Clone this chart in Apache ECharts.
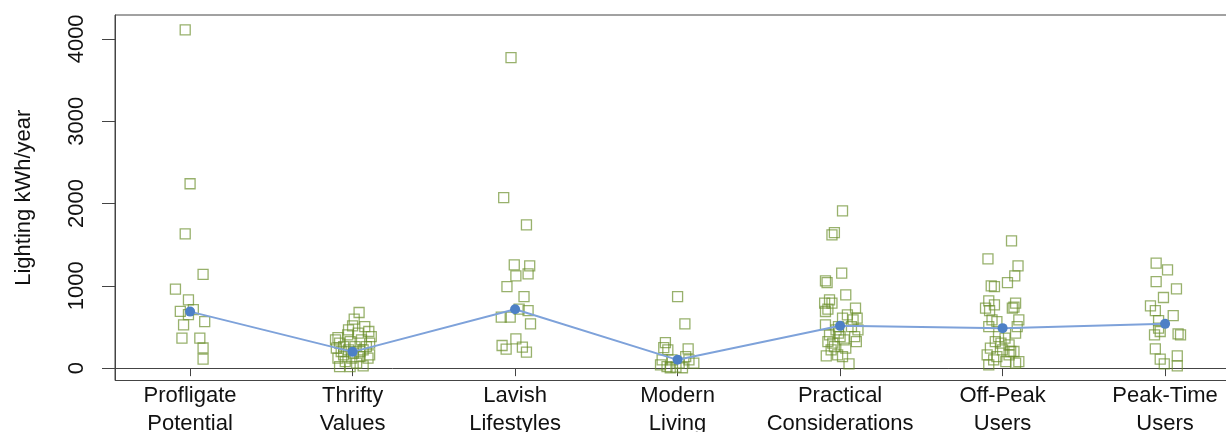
<!DOCTYPE html>
<html lang="en">
<head>
  <meta charset="UTF-8">
  <title>Lighting kWh/year by segment</title>
  <style>
    * { margin: 0; padding: 0; }
    body { background: #fff; }
    #chart { width: 1226px; height: 432px; }
  </style>
  <script src="https://cdn.jsdelivr.net/npm/echarts@6/dist/echarts.min.js"></script>
</head>
<body>
  <div id="chart"></div>
  <script>
    // segment names and y tick values
    const segments = ['Profligate\nPotential', 'Thrifty\nValues', 'Lavish\nLifestyles', 'Modern\nLiving',
                      'Practical\nConsiderations', 'Off-Peak\nUsers', 'Peak-Time\nUsers'];
    const yTicks = [0, 1000, 2000, 3000, 4000];

    // middle value per segment (blue line)
    const middles = [687, 198, 716, 101, 514, 486, 538];

    // households per segment: horizontal jitter (category units) and kWh/year
    const jitter1 = [-0.03, 0.0, -0.03, 0.08, -0.09, -0.01, -0.06, 0.02, -0.01, 0.09, -0.04, -0.05, 0.06, 0.08, 0.08];
    const kwh1 = [4110, 2240, 1630, 1140, 960, 830, 690, 710, 650, 565, 525, 365, 365, 245, 110];

    const jitter2 = [0.04, 0.01, 0.0, 0.10, -0.09, -0.03, 0.035, -0.08, -0.015, 0.055, 0.105, -0.07, -0.025, 0.065,
                     0.105, -0.09, -0.005, 0.045, 0.095, -0.08, -0.015, 0.065, -0.045, 0.025, -0.055, 0.015, 0.085,
                     -0.10, 0.115, -0.025, 0.075, -0.055, 0.005, 0.045, -0.105];
    const kwh2 = [676, 595, 514, 445, 372, 405, 425, 304, 323, 344, 304, 202, 222, 222,
                  162, 121, 121, 141, 121, 19, 19, 28, 80, 61, 262, 262, 262,
                  243, 384, 465, 505, 162, 182, 202, 344];

    const jitter3 = [-0.025, -0.07, 0.07, -0.005, 0.09, 0.005, 0.08, -0.05, 0.055, 0.025, 0.08, -0.085, -0.03, 0.095,
                     0.005, -0.08, -0.055, 0.045, 0.07];
    const kwh3 = [3773, 2072, 1741, 1255, 1243, 1121, 1145, 991, 870, 717, 700, 619, 619, 538,
                  356, 275, 231, 255, 194];

    const jitter4 = [0.0, 0.045, -0.075, -0.085, -0.06, 0.065, -0.095, -0.035, 0.05, 0.10, -0.065, -0.01, 0.03,
                     -0.105, -0.045, 0.01, 0.07];
    const kwh4 = [870, 538, 311, 250, 222, 234, 101, 101, 141, 61, 19, 12, 5, 40, 5, 61, 101];

    const jitter5 = [0.015, -0.035, -0.05, 0.01, -0.09, -0.08, 0.035, -0.065, -0.095, -0.05, -0.09, -0.075, 0.095,
                     0.045, 0.105, 0.015, 0.08, -0.09, 0.07, -0.065, -0.01, 0.09, -0.075, 0.025, 0.10, -0.035,
                     0.035, -0.045, -0.085, -0.015, 0.055, 0.0, -0.01, -0.025, 0.11, -0.055, 0.015];
    const kwh5 = [1911, 1647, 1619, 1154, 1060, 1040, 890, 830, 789, 789, 688, 717, 729,
                  647, 607, 607, 587, 526, 505, 405, 425, 384, 323, 344, 323, 262,
                  243, 304, 149, 162, 52, 384, 505, 465, 465, 222, 141];

    const jitter6 = [0.055, -0.09, 0.095, 0.075, 0.03, -0.07, -0.05, -0.085, -0.05, 0.08, 0.06, -0.08, 0.10,
                     -0.035, -0.085, 0.09, 0.08, -0.025, 0.015, -0.045, 0.04, -0.075, 0.0, 0.07, -0.095,
                     -0.035, 0.04, -0.085, 0.02, 0.08, 0.10, -0.055, -0.01, 0.05, -0.065, 0.07, -0.105];
    const kwh6 = [1546, 1327, 1243, 1121, 1040, 1000, 991, 818, 769, 789, 729, 700, 587,
                  566, 505, 505, 425, 384, 364, 323, 283, 243, 222, 202, 162,
                  141, 162, 40, 80, 61, 80, 101, 304, 202, 587, 741, 729];

    const jitter7 = [-0.055, 0.015, -0.055, 0.07, -0.01, -0.09, -0.06, 0.05, -0.04, -0.03, -0.065, 0.08, 0.095,
                     -0.06, -0.03, -0.005, 0.075, 0.075, -0.04];
    const kwh7 = [1275, 1194, 1052, 963, 858, 757, 700, 639, 578, 445, 405, 417, 405,
                  234, 109, 52, 149, 28, 486];

    const jitters = [jitter1, jitter2, jitter3, jitter4, jitter5, jitter6, jitter7];
    const kwhs = [kwh1, kwh2, kwh3, kwh4, kwh5, kwh6, kwh7];

    const points = [];
    kwhs.forEach((vals, k) => {
      vals.forEach((v, i) => points.push([k + 1 + jitters[k][i], v]));
    });
    const middleLine = middles.map((v, k) => [k + 1, v]);
    const catPos = segments.map((s, k) => k + 1);

    const font = "'Liberation Sans', Arial, sans-serif";
    const axisColor = '#444';

    const chart = echarts.init(document.getElementById('chart'));
    chart.setOption({
      animation: false,
      backgroundColor: '#fff',
      grid: {
        left: 115, top: 15, width: 1125, height: 365.5,
        outerBoundsMode: 'none',
        containLabel: false,
        show: true, borderColor: axisColor, borderWidth: 1, backgroundColor: 'transparent'
      },
      xAxis: {
        type: 'value',
        min: 0.538, max: 7.461,
        splitLine: { show: false },
        axisLine: { show: true, lineStyle: { color: axisColor, width: 1 } },
        axisTick: { show: true, length: 8, inside: false, customValues: catPos, lineStyle: { color: axisColor } },
        axisLabel: {
          customValues: catPos,
          margin: 1,
          fontSize: 22,
          lineHeight: 28,
          fontFamily: font,
          color: '#111',
          formatter: v => segments[Math.round(v) - 1] || ''
        }
      },
      yAxis: {
        type: 'value',
        min: -150, max: 4290,
        name: 'Lighting kWh/year',
        nameLocation: 'middle',
        nameRotate: 90,
        nameGap: 80,
        nameTextStyle: { fontSize: 22, fontFamily: font, color: '#111' },
        splitLine: { show: false },
        axisLine: { show: true, lineStyle: { color: axisColor, width: 1 } },
        axisTick: { show: true, length: 13, inside: false, customValues: yTicks, lineStyle: { color: axisColor } },
        axisLabel: {
          customValues: yTicks,
          rotate: 90,
          margin: 27,
          fontSize: 22,
          fontFamily: font,
          color: '#111',
          formatter: v => String(v)
        }
      },
      series: [
        {
          type: 'scatter',
          data: points,
          symbol: 'rect',
          symbolSize: 10,
          itemStyle: { color: 'rgba(255,255,255,0)', borderColor: 'rgba(104,140,40,0.85)', borderWidth: 1.3 },
          z: 2
        },
        {
          type: 'line',
          data: middleLine,
          symbol: 'circle',
          symbolSize: 10,
          lineStyle: { color: '#7ea2da', width: 2 },
          itemStyle: { color: '#4d80c6' },
          z: 3
        }
      ]
    });
  </script>
</body>
</html>
